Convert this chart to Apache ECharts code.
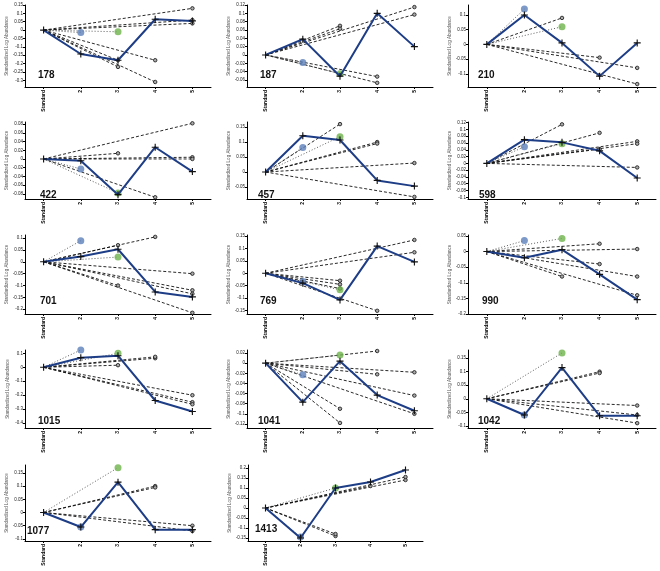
<!DOCTYPE html>
<html><head><meta charset="utf-8">
<script src="https://cdn.jsdelivr.net/npm/echarts@6/dist/echarts.min.js"></script>
<style>html,body{margin:0;padding:0;background:#fff}#c{width:660px;height:571px}</style>
</head><body><div id="c"></div>
<script>
const categories = ['Standard', '2', '3', '4', '5'];
const panelNames = ['178','187','210','422','457','598','701','769','990','1015','1041','1042','1077','1413'];
const yAxisName = 'Standardized Log Abundance';

// mean profile (blue line with + markers)
const mainLine = [
  [0, -0.143, -0.18, 0.065, 0.055],
  [0, 0.038, -0.051, 0.1, 0.02],
  [0, 0.1, 0.005, -0.108, 0.005],
  [0, -0.004, -0.082, 0.027, -0.029],
  [0, 0.121, 0.107, -0.028, -0.047],
  [0, 0.07, 0.062, 0.037, -0.043],
  [0, 0.022, 0.053, -0.127, -0.148],
  [0, -0.04, -0.108, 0.11, 0.046],
  [0, -0.02, 0.006, -0.073, -0.154],
  [0, 0.069, 0.083, -0.238, -0.317],
  [0, -0.077, 0.004, -0.063, -0.094],
  [0, -0.06, 0.115, -0.063, -0.063],
  [0, -0.055, 0.115, -0.065, -0.065],
  [0, -0.15, 0.1, 0.13, 0.19]
];
// blue dot at category "2", green dot at category "3"
const blueDot  = [-0.015, -0.018, 0.12, -0.023, 0.082, 0.049, 0.089, -0.033, 0.035, 0.124, -0.023, -0.06, -0.055, -0.145];
const greenDot = [-0.01, -0.045, 0.06, -0.078, 0.118, 0.058, 0.02, -0.067, 0.042, 0.1, 0.016, 0.169, 0.17, 0.1];
// dashed individual profiles: [category index, value] end points (start at Standard, 0)
const dashedEnds = [
  [[4,0.13],[5,0.11],[5,0.075],[4,0.06],[5,0.06],[4,0.04],[5,-0.015],[2,-0.18],[2,-0.22],[3,-0.31],[3,-0.18]],
  [[2,0.07],[2,0.063],[4,0.115],[4,0.097],[5,0.065],[5,-0.023],[3,-0.067],[3,-0.052]],
  [[2,0.09],[3,-0.045],[4,-0.08],[4,-0.135],[5,0.005]],
  [[4,0.082],[2,0.013],[4,0.004],[4,0.0],[5,-0.003],[5,-0.03],[5,-0.05],[3,-0.088]],
  [[2,0.16],[3,0.1],[3,0.095],[4,0.03],[5,-0.02],[5,-0.04],[5,-0.055],[5,-0.06],[4,-0.083]],
  [[2,0.115],[3,0.09],[4,0.065],[4,0.058],[3,0.042],[5,0],[4,-0.012],[5,-0.038],[5,-0.098]],
  [[3,0.105],[2,0.07],[4,-0.05],[2,-0.1],[5,-0.125],[5,-0.18],[4,-0.215],[4,-0.12],[5,-0.15],[4,-0.135]],
  [[4,0.135],[4,0.085],[5,0.075],[5,0.04],[5,0.025],[3,-0.152],[2,-0.062],[2,-0.03],[2,-0.045]],
  [[3,0.025],[4,0.008],[2,-0.08],[3,-0.04],[4,-0.08],[4,-0.14],[5,-0.105],[5,-0.165],[5,-0.195]],
  [[2,0.015],[3,0.065],[3,0.075],[4,-0.2],[4,-0.25],[4,-0.265],[5,-0.235],[5,-0.42]],
  [[3,0.024],[2,-0.09],[2,-0.118],[3,-0.022],[4,-0.018],[4,-0.064],[4,-0.1],[5,-0.066],[5,-0.1],[5,-0.113]],
  [[3,0.1],[3,0.095],[4,-0.025],[5,-0.01],[4,-0.09],[5,-0.08],[5,-0.09],[5,-0.095],[4,-0.06]],
  [[3,0.1],[3,0.095],[5,-0.01],[4,-0.07],[5,-0.08],[5,-0.09],[5,-0.1],[4,-0.05]],
  [[2,-0.14],[2,-0.13],[3,0.11],[4,0.14],[4,0.155],[5,0.2],[5,0.18],[5,0.19]]
];
const yTickLabels = [
  ['0.15','0.1','0.05','0','-0.05','-0.1','-0.15','-0.2','-0.25','-0.3'],
  ['0.12','0.1','0.08','0.06','0.04','0.02','0','-0.02','-0.04','-0.06'],
  ['0.1','0.05','0','-0.05','-0.1'],
  ['0.08','0.06','0.04','0.02','0','-0.02','-0.04','-0.06','-0.08'],
  ['0.15','0.1','0.05','0','-0.05'],
  ['0.12','0.1','0.08','0.06','0.04','0.02','0','-0.02','-0.04','-0.06','-0.08','-0.1'],
  ['0.1','0.05','0','-0.05','-0.1','-0.15','-0.2'],
  ['0.15','0.1','0.05','0','-0.05','-0.1','-0.15'],
  ['0.05','0','-0.05','-0.1','-0.15','-0.2'],
  ['0.1','0','-0.1','-0.2','-0.3','-0.4'],
  ['0.02','0','-0.02','-0.04','-0.06','-0.08','-0.1','-0.12'],
  ['0.15','0.1','0.05','0','-0.05','-0.1'],
  ['0.15','0.1','0.05','0','-0.05','-0.1'],
  ['0.2','0.15','0.1','0.05','0','-0.05','-0.1','-0.15']
];
const yMin = [-0.34, -0.077, -0.145, -0.092, -0.09, -0.105, -0.22, -0.165, -0.2, -0.435, -0.128, -0.108, -0.108, -0.165];
const yMax = [0.15, 0.12, 0.134, 0.085, 0.167, 0.122, 0.113, 0.155, 0.053, 0.124, 0.026, 0.18, 0.18, 0.215];

// ---- layout ----
const colLeft = [25, 247, 468];
const colWidth = [186, 186, 188];
const rowTop = [5, 122, 235, 350, 465];
const rowAxis = [87, 199, 314, 428, 541];
const labelPos = [
  [33,65],[255,65],[473,65],
  [35,185],[253,185],[474,185],
  [35,291],[255,291],[477,291],
  [33,411],[253,411],[473,411],
  [22,521],[250,519]
];

const grids = [], xAxes = [], yAxes = [], series = [], titles = [];
const crossPath = 'path://M4.2,0h1.6v4.2h4.2v1.6h-4.2v4.2h-1.6v-4.2h-4.2v-1.6h4.2z';

panelNames.forEach((name, i) => {
  const row = Math.floor(i / 3), col = i % 3;
  let left = colLeft[col], width = colWidth[col];
  if (i === 13) { left = 248; width = 175; }
  grids.push({ left: left, top: rowTop[row], width: width, height: rowAxis[row] - rowTop[row] });
  const labels = yTickLabels[i];
  const vals = labels.map(Number);
  xAxes.push({
    type: 'category', gridIndex: i, data: categories, boundaryGap: true, position: 'bottom',
    axisLine: { show: true, onZero: false, lineStyle: { color: '#000', width: 1 } },
    axisTick: { show: true, alignWithLabel: true, length: 2, lineStyle: { color: '#000' } },
    axisLabel: { rotate: 90, fontSize: 5, fontWeight: 'bold', color: '#000', margin: 3, interval: 0, fontFamily: 'Liberation Sans' },
    splitLine: { show: false }
  });
  yAxes.push({
    type: 'value', gridIndex: i, min: yMin[i], max: yMax[i],
    axisLine: { show: true, onZero: false, lineStyle: { color: '#000', width: 1 } },
    axisTick: { show: true, length: 2, customValues: vals, lineStyle: { color: '#000' } },
    axisLabel: {
      customValues: vals, fontSize: 4.5, color: '#222', margin: 2, fontFamily: 'Liberation Sans',
      formatter: v => { const k = vals.findIndex(t => Math.abs(t - v) < 1e-9); return k >= 0 ? labels[k] : ''; }
    },
    splitLine: { show: false },
    name: yAxisName, nameLocation: 'middle', nameGap: 15,
    nameTextStyle: { fontSize: 4.5, color: '#555', fontFamily: 'Liberation Sans' }
  });
  titles.push({
    text: name, left: labelPos[i][0], top: labelPos[i][1],
    textStyle: { fontSize: 10, fontWeight: 'bold', color: '#111', fontFamily: 'Liberation Sans' }
  });
  const base = { xAxisIndex: i, yAxisIndex: i, animation: false, silent: true, clip: false };
  dashedEnds[i].forEach(([k, v]) => {
    series.push(Object.assign({}, base, {
      type: 'line', z: 2,
      data: [{ value: [categories[0], 0], symbol: 'none' }, { value: [categories[k], v] }],
      symbol: 'circle', symbolSize: 3.5,
      itemStyle: { color: '#aaa', borderColor: '#111', borderWidth: 0.8 },
      lineStyle: { color: '#111', width: 0.9, type: [3, 2] }
    }));
  });
  series.push(Object.assign({}, base, {
    type: 'line', z: 2, symbol: 'none',
    data: [[categories[0], 0], [categories[1], blueDot[i]]],
    lineStyle: { color: '#333', width: 0.8, type: [1, 2] }
  }));
  series.push(Object.assign({}, base, {
    type: 'line', z: 2, symbol: 'none',
    data: [[categories[0], 0], [categories[2], greenDot[i]]],
    lineStyle: { color: '#333', width: 0.8, type: [1, 2] }
  }));
  series.push(Object.assign({}, base, {
    type: 'scatter', z: 3, symbolSize: 7,
    data: [[categories[1], blueDot[i]]],
    itemStyle: { color: '#5b7fba' }
  }));
  series.push(Object.assign({}, base, {
    type: 'scatter', z: 3, symbolSize: 7,
    data: [[categories[2], greenDot[i]]],
    itemStyle: { color: '#6db34b' }
  }));
  series.push(Object.assign({}, base, {
    type: 'line', z: 4,
    data: categories.map((c, j) => [c, mainLine[i][j]]),
    symbol: crossPath, symbolSize: 7,
    itemStyle: { color: '#111' },
    lineStyle: { color: '#1d3d86', width: 2 }
  }));
});

const chart = echarts.init(document.getElementById('c'), null, { renderer: 'canvas' });
chart.setOption({
  backgroundColor: '#fff',
  animation: false,
  title: titles,
  grid: grids,
  xAxis: xAxes,
  yAxis: yAxes,
  series: series
});
</script>
</body></html>
